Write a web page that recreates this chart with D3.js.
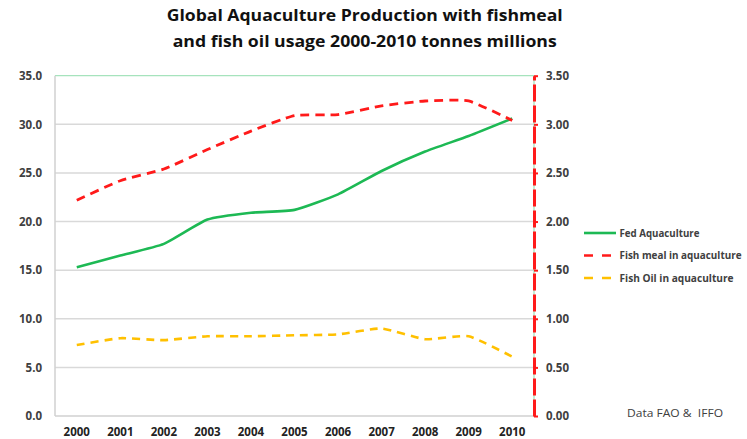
<!DOCTYPE html>
<html>
<head>
<meta charset="utf-8">
<script src="https://cdn.jsdelivr.net/npm/d3@7"></script>
<style>
  html, body { margin: 0; padding: 0; background: #fff; }
  svg { display: block; font-family: "Open Sans", "Liberation Sans", Arial, sans-serif; }
</style>
</head>
<body>
<svg id="chart" width="747" height="439"></svg>
<script>
// Years on the category axis
const years = ["2000","2001","2002","2003","2004","2005","2006","2007","2008","2009","2010"];
// Fed aquaculture production, million tonnes (left axis)
const fedAquaculture = [15.3, 16.5, 17.7, 20.2, 20.9, 21.2, 22.8, 25.2, 27.2, 28.8, 30.6];
// Fish meal used in aquaculture, million tonnes (right axis)
const fishMeal = [2.22, 2.42, 2.54, 2.74, 2.93, 3.09, 3.10, 3.19, 3.24, 3.24, 3.04];
// Fish oil used in aquaculture, million tonnes (right axis)
const fishOil = [0.73, 0.80, 0.78, 0.82, 0.82, 0.83, 0.84, 0.90, 0.79, 0.82, 0.61];
// Axis tick values
const leftTicks = [0, 5, 10, 15, 20, 25, 30, 35];
const rightTicks = [0, 0.5, 1, 1.5, 2, 2.5, 3, 3.5];

const svg = d3.select("#chart");
const L = 55, R = 534, T = 75.7, B = 416;
const textCol = "#404040";
const font = "Open Sans, Liberation Sans, Arial, sans-serif";

const x = d3.scaleBand().domain(years).range([L, R]);
const cx = d => x(d) + x.bandwidth() / 2;
const yL = d3.scaleLinear().domain([0, 35]).range([B, T]);
const yR = d3.scaleLinear().domain([0, 3.5]).range([B, T]);

// Title
const title = svg.append("g").attr("font-weight", "bold").attr("font-size", 16).attr("fill", "#111")
  .attr("text-anchor", "middle");
title.append("text").attr("x", 364.7).attr("y", 21).attr("textLength", 396).attr("lengthAdjust", "spacingAndGlyphs")
  .text("Global Aquaculture Production with fishmeal");
title.append("text").attr("x", 364.7).attr("y", 47).attr("textLength", 384).attr("lengthAdjust", "spacingAndGlyphs")
  .text("and fish oil usage 2000-2010 tonnes millions");

// Horizontal gridlines
svg.append("g").selectAll("line").data(leftTicks.slice(1, -1)).join("line")
  .attr("x1", L).attr("x2", R).attr("y1", d => yL(d)).attr("y2", d => yL(d))
  .attr("stroke", "#d9d9d9").attr("stroke-width", 1.5);
// Plot frame: light green top and right edge
svg.append("line").attr("x1", L).attr("x2", R).attr("y1", T).attr("y2", T)
  .attr("stroke", "#a6e3bd").attr("stroke-width", 1.3);
svg.append("line").attr("x1", R).attr("x2", R).attr("y1", T).attr("y2", B)
  .attr("stroke", "#a6e3bd").attr("stroke-width", 1.3);
// Left and bottom axis lines
svg.append("line").attr("x1", L).attr("x2", L).attr("y1", T).attr("y2", B)
  .attr("stroke", "#d0d0d0").attr("stroke-width", 1.5);
svg.append("line").attr("x1", L).attr("x2", R).attr("y1", B).attr("y2", B)
  .attr("stroke", "#d0d0d0").attr("stroke-width", 1.5);

// Left axis labels
const gL = svg.append("g").attr("transform", `translate(${L},0)`)
  .call(d3.axisLeft(yL).tickValues(leftTicks).tickFormat(d3.format(".1f")).tickSize(0).tickPadding(13));
gL.select(".domain").remove();
gL.selectAll("text").attr("font-size", 11.5).attr("font-weight", "bold").attr("fill", textCol)
  .attr("font-family", font);

// Right axis: red dashed line with small ticks
const gR = svg.append("g").attr("transform", `translate(${R},0)`)
  .call(d3.axisRight(yR).tickValues(rightTicks).tickFormat(d3.format(".2f")).tickSize(4).tickSizeOuter(0).tickPadding(8));
gR.select(".domain").attr("stroke", "#ff1a1a").attr("stroke-width", 3).attr("stroke-dasharray", "17,4");
gR.selectAll(".tick line").attr("stroke", "#ff1a1a").attr("stroke-width", 2);
gR.selectAll("text").attr("font-size", 11.5).attr("font-weight", "bold").attr("fill", textCol)
  .attr("font-family", font);

// Bottom axis labels
const gB = svg.append("g").attr("transform", `translate(0,${B})`)
  .call(d3.axisBottom(x).tickSize(0).tickPadding(12));
gB.select(".domain").remove();
gB.selectAll("text").attr("font-size", 11.5).attr("font-weight", "bold").attr("fill", "#222")
  .attr("font-family", font);

// Series lines, lightly smoothed
const curve = d3.curveCardinal.tension(0.5);
const series = [
  { name: "Fed Aquaculture", values: fedAquaculture, y: yL, color: "#1db954", dash: null, width: 2.6 },
  { name: "Fish meal in aquaculture", values: fishMeal, y: yR, color: "#ff1a1a", dash: "9,6", width: 2.8 },
  { name: "Fish Oil in aquaculture", values: fishOil, y: yR, color: "#ffc000", dash: "8,6", width: 2.6 }
];
series.forEach(s => {
  const line = d3.line().x((d, i) => cx(years[i])).y(d => s.y(d)).curve(curve);
  svg.append("path").datum(s.values).attr("d", line)
    .attr("fill", "none").attr("stroke", s.color).attr("stroke-width", s.width)
    .attr("stroke-dasharray", s.dash).attr("stroke-linecap", "butt");
});

// Legend
const legend = svg.append("g");
series.forEach((s, i) => {
  const ly = 233 + i * 22.5;
  legend.append("line").attr("x1", 584).attr("x2", 616).attr("y1", ly).attr("y2", ly)
    .attr("stroke", s.color).attr("stroke-width", 2.6).attr("stroke-dasharray", s.dash ? "9,9" : null);
  legend.append("text").attr("x", 619.5).attr("y", ly + 3.5)
    .attr("font-size", 10).attr("font-weight", "bold").attr("fill", textCol)
    .attr("textLength", [80, 122, 114][i]).attr("lengthAdjust", "spacingAndGlyphs").text(s.name);
});

// Source note
svg.append("text").attr("x", 627).attr("y", 417).attr("font-size", 11).attr("fill", textCol)
  .attr("xml:space", "preserve").attr("textLength", 96).attr("lengthAdjust", "spacingAndGlyphs")
  .text("Data FAO &  IFFO");
</script>
</body>
</html>
